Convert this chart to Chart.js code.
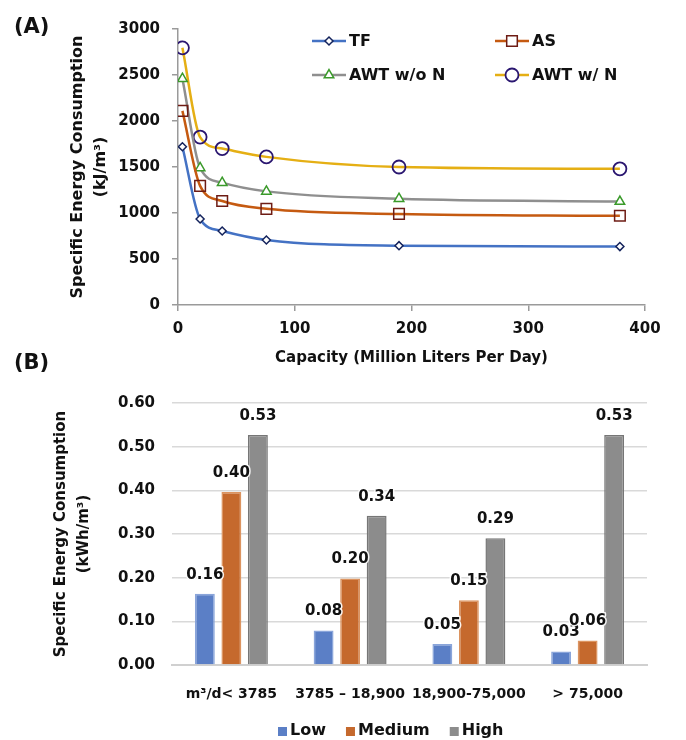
<!DOCTYPE html>
<html>
<head>
<meta charset="utf-8">
<script src="https://cdn.jsdelivr.net/npm/chart.js@4.4.1/dist/chart.umd.min.js"></script>
<style>
    html, body { margin: 0; padding: 0; background: #fff; }
    #wrap { position: relative; width: 686px; height: 740px; font-family: "DejaVu Sans", sans-serif; font-weight: bold; color: #111; }
    .panel { position: absolute; font-size: 21px; }
    #chartA { position: absolute; left: 0; top: 0; }
    #chartB { position: absolute; left: 0; top: 372px; }
</style>
</head>
<body>
<div id="wrap">
    <canvas id="chartA" width="686" height="372"></canvas>
    <canvas id="chartB" width="686" height="368"></canvas>
    <div class="panel" style="left:14px;top:14px;">(A)</div>
    <div class="panel" style="left:14px;top:350px;">(B)</div>
</div>
<script>
// (A) energy vs plant capacity
const capacity = [3.785, 18.93, 37.85, 75.7, 189.3, 378.5];
const tfValues = [1720, 935, 805, 707, 645, 635];
const asValues = [2110, 1295, 1130, 1045, 990, 970];
const awtNoNValues = [2460, 1490, 1330, 1235, 1155, 1125];
const awtNValues = [2795, 1825, 1700, 1610, 1500, 1480];

// (B) energy by size class
const sizeClasses = ['m³/d< 3785', '3785 – 18,900', '18,900-75,000', '> 75,000'];
const lowValues = [0.163, 0.079, 0.048, 0.031];
const mediumValues = [0.396, 0.198, 0.148, 0.056];
const highValues = [0.527, 0.342, 0.29, 0.527];

const FONT = '"DejaVu Sans", sans-serif';
const INK = '#111';

Chart.defaults.font.family = FONT;
Chart.defaults.font.weight = 'bold';
Chart.defaults.color = INK;

buildCapacityChart();
buildSizeClassChart();

function toXY(values) {
    return values.map((v, i) => ({ x: capacity[i], y: v }));
}

function drawMarker(ctx, ds, x, y) {
    ctx.fillStyle = '#fff';
    ctx.strokeStyle = ds.pointBorderColor;
    ctx.lineWidth = ds.pointBorderWidth;
    if (Chart.helpers && Chart.helpers.drawPoint) {
        Chart.helpers.drawPoint(ctx, { pointStyle: ds.pointStyle, radius: ds.pointRadius, borderWidth: ds.pointBorderWidth, rotation: 0 }, x, y);
    } else {
        ctx.beginPath();
        ctx.arc(x, y, ds.pointRadius, 0, Math.PI * 2);
        ctx.fill();
        ctx.stroke();
    }
}

function buildCapacityChart() {
    const ctxA = document.getElementById('chartA');

    // legend sits inside the plot, two rows of line + marker
    const lineLegend = {
        id: 'lineLegend',
        afterDraw(chart) {
            const ctx = chart.ctx;
            const spots = [[312, 41], [495, 41], [312, 75], [495, 75]];
            chart.data.datasets.forEach((ds, i) => {
                const [x, y] = spots[i];
                ctx.save();
                ctx.strokeStyle = ds.borderColor;
                ctx.lineWidth = 2.5;
                ctx.beginPath();
                ctx.moveTo(x, y);
                ctx.lineTo(x + 34, y);
                ctx.stroke();
                drawMarker(ctx, ds, x + 17, y);
                ctx.font = 'bold 16px ' + FONT;
                ctx.fillStyle = INK;
                ctx.textBaseline = 'middle';
                ctx.fillText(ds.label, x + 37, y + 1);
                ctx.restore();
            });
        }
    };

    new Chart(ctxA, {
        type: 'line',
        data: {
            datasets: [
                {
                    label: 'TF',
                    data: toXY(tfValues),
                    borderColor: '#4472C4',
                    pointStyle: 'rectRot',
                    pointRadius: 4,
                    pointBorderColor: '#14235c',
                    pointBackgroundColor: '#fff',
                    pointBorderWidth: 1.5
                },
                {
                    label: 'AS',
                    data: toXY(asValues),
                    borderColor: '#C55A11',
                    pointStyle: 'rect',
                    pointRadius: 7.5,
                    pointBorderColor: '#6e1c14',
                    pointBackgroundColor: 'rgba(255,255,255,0)',
                    pointBorderWidth: 1.5
                },
                {
                    label: 'AWT w/o N',
                    data: toXY(awtNoNValues),
                    borderColor: '#8f8f8f',
                    pointStyle: 'triangle',
                    pointRadius: 5.5,
                    pointBorderColor: '#3a9a2a',
                    pointBackgroundColor: '#fff',
                    pointBorderWidth: 1.5
                },
                {
                    label: 'AWT w/ N',
                    data: toXY(awtNValues),
                    borderColor: '#E5AF14',
                    pointStyle: 'circle',
                    pointRadius: 6.5,
                    pointBorderColor: '#2a1670',
                    pointBackgroundColor: 'rgba(255,255,255,0)',
                    pointBorderWidth: 1.8
                }
            ]
        },
        options: {
            responsive: false,
            animation: false,
            cubicInterpolationMode: 'monotone',
            borderWidth: 2.5,
            layout: { padding: { top: 29, right: 41, left: 0, bottom: 0 } },
            scales: {
                x: {
                    type: 'linear',
                    min: 0,
                    max: 400,
                    ticks: { stepSize: 100, padding: 9, font: { size: 15 } },
                    grid: { drawOnChartArea: false, drawTicks: true, tickLength: 6, color: '#9a9a9a', lineWidth: 1.5 },
                    border: { color: '#9a9a9a', width: 1.5 },
                    title: {
                        display: true,
                        text: 'Capacity (Million Liters Per Day)',
                        font: { size: 15 },
                        padding: { top: 0, bottom: 5 }
                    },
                    afterFit: (scale) => { scale.height = 67; }
                },
                y: {
                    min: 0,
                    max: 3000,
                    ticks: { stepSize: 500, padding: 12, font: { size: 15 }, callback: (v) => String(v) },
                    grid: { drawOnChartArea: false, drawTicks: true, tickLength: 6, color: '#9a9a9a', lineWidth: 1.5 },
                    border: { color: '#9a9a9a', width: 1.5 },
                    title: {
                        display: true,
                        text: ['Specific Energy Consumption', '(kJ/m³)'],
                        font: { size: 16, lineHeight: 1.4 },
                        padding: { top: 67, bottom: 0 }
                    },
                    afterFit: (scale) => { scale.width = 178; }
                }
            },
            plugins: {
                legend: { display: false },
                tooltip: { enabled: false }
            }
        },
        plugins: [lineLegend]
    });
}

function buildSizeClassChart() {
    const ctxB = document.getElementById('chartB');

    const valueLabels = {
        id: 'valueLabels',
        afterDatasetsDraw(chart) {
            const ctx = chart.ctx;
            ctx.save();
            ctx.font = 'bold 15px ' + FONT;
            ctx.textAlign = 'center';
            ctx.textBaseline = 'middle';
            ctx.lineJoin = 'round';
            chart.data.datasets.forEach((ds, i) => {
                chart.getDatasetMeta(i).data.forEach((bar, j) => {
                    const text = ds.data[j].toFixed(2);
                    ctx.strokeStyle = 'rgba(255,255,255,0.9)';
                    ctx.lineWidth = 3;
                    ctx.strokeText(text, bar.x, bar.y - 19);
                    ctx.fillStyle = INK;
                    ctx.fillText(text, bar.x, bar.y - 19);
                });
            });
            ctx.restore();
        }
    };

    const boxLegend = {
        id: 'boxLegend',
        afterDraw(chart) {
            const ctx = chart.ctx;
            ctx.save();
            ctx.font = 'bold 16px ' + FONT;
            ctx.textBaseline = 'middle';
            let x = 278;
            const y = 359;
            chart.data.datasets.forEach((ds) => {
                ctx.fillStyle = ds.backgroundColor;
                ctx.fillRect(x, y - 4, 9, 9);
                ctx.fillStyle = INK;
                ctx.fillText(ds.label, x + 12, y);
                x += 12 + ctx.measureText(ds.label).width + 20;
            });
            ctx.restore();
        }
    };

    new Chart(ctxB, {
        type: 'bar',
        data: {
            labels: sizeClasses,
            datasets: [
                { label: 'Low', data: lowValues, backgroundColor: '#5B7FC6', borderColor: '#8aa5da' },
                { label: 'Medium', data: mediumValues, backgroundColor: '#C5692D', borderColor: '#dc9460' },
                { label: 'High', data: highValues, backgroundColor: '#8C8C8C', borderColor: '#767676' }
            ]
        },
        options: {
            responsive: false,
            animation: false,
            borderWidth: 1.5,
            categoryPercentage: 0.67,
            barPercentage: 0.75,
            layout: { padding: { top: 31, right: 39, left: 0, bottom: 0 } },
            scales: {
                x: {
                    ticks: { padding: 21, font: { size: 14 }, autoSkip: false, maxRotation: 0, minRotation: 0 },
                    grid: { display: false, drawTicks: false },
                    border: { color: '#d0d0d0', width: 2 },
                    afterFit: (scale) => { scale.height = 75; }
                },
                y: {
                    min: 0,
                    max: 0.6,
                    ticks: { stepSize: 0.1, padding: 17, font: { size: 15 }, callback: (v) => v.toFixed(2) },
                    grid: { color: '#d9d9d9', lineWidth: 1.5, drawTicks: false },
                    border: { display: false },
                    title: {
                        display: true,
                        text: ['Specific Energy Consumption', '(kWh/m³)'],
                        font: { size: 15, lineHeight: 1.53 },
                        padding: { top: 50, bottom: 0 }
                    },
                    afterFit: (scale) => { scale.width = 172; }
                }
            },
            plugins: {
                legend: { display: false },
                tooltip: { enabled: false }
            }
        },
        plugins: [valueLabels, boxLegend]
    });
}
</script>
</body>
</html>
